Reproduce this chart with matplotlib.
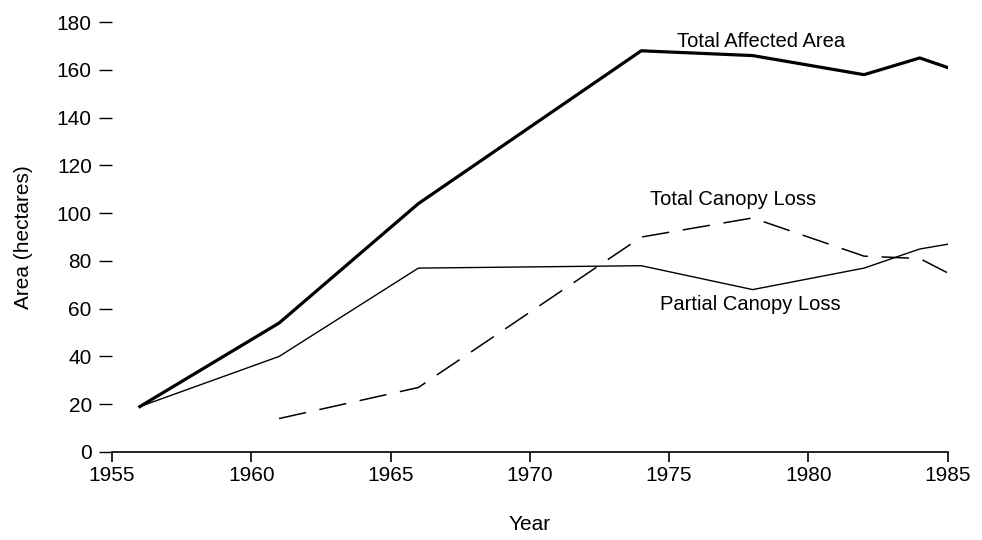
import matplotlib
matplotlib.use("Agg")
import matplotlib.pyplot as plt

plt.rcParams['font.family'] = ['Liberation Sans', 'DejaVu Sans']

years_total = [1956, 1961, 1966, 1974, 1978, 1982, 1984, 1985]
total_affected = [19, 54, 104, 168, 166, 158, 165, 161]

years_partial = [1956, 1961, 1966, 1974, 1978, 1982, 1984, 1985]
partial_loss = [19, 40, 77, 78, 68, 77, 85, 87]

years_canopy = [1961, 1966, 1974, 1978, 1982, 1984, 1985]
canopy_loss = [14, 27, 90, 98, 82, 81, 75]

x_ticks = [1955, 1960, 1965, 1970, 1975, 1980, 1985]
y_ticks = [0, 20, 40, 60, 80, 100, 120, 140, 160, 180]

fig = plt.figure(figsize=(9.82, 5.4), dpi=100)
ax = fig.add_axes([0.114, 0.163, 0.851, 0.796])

ax.plot(years_total, total_affected, color="black", lw=2.3)
ax.plot(years_partial, partial_loss, color="black", lw=1.0)
ax.plot(years_canopy, canopy_loss, color="black", lw=1.1, dashes=(18, 9))

# line labels
ax.text(1978.3, 169.5, "Total Affected Area", fontsize=14.5, ha="center", va="baseline")
ax.text(1977.3, 103.3, "Total Canopy Loss", fontsize=14.5, ha="center", va="baseline")
ax.text(1977.9, 59.4, "Partial Canopy Loss", fontsize=14.5, ha="center", va="baseline")

ax.set_xlim(1955, 1985)
ax.set_ylim(0, 180)
ax.set_xticks(x_ticks)
ax.set_yticks(y_ticks)
for s in ["top", "right", "left"]:
    ax.spines[s].set_visible(False)
ax.spines["bottom"].set_linewidth(1.2)
ax.tick_params(axis="x", length=7, width=1.2, labelsize=15, pad=3)
ax.tick_params(axis="y", length=9.5, width=1.0, labelsize=15, pad=5)

ax.set_xlabel("Year", fontsize=15)
ax.set_ylabel("Area (hectares)", fontsize=15)
ax.xaxis.set_label_coords(0.5, -0.146)
ax.yaxis.set_label_coords(-0.094, 0.5)

fig.savefig("out.png", dpi=100)
